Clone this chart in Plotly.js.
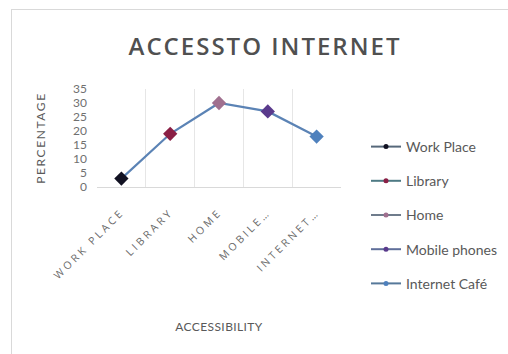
<!DOCTYPE html>
<html>
<head>
<meta charset="utf-8">
<script src="https://cdn.plot.ly/plotly-3.0.1.min.js"></script>
<style>
html,body{margin:0;padding:0;background:#fff;}
#chart{width:508px;height:354px;}
.xtick text{letter-spacing:3px;}
.gtitle{letter-spacing:2px;}
.g-ytitle text{letter-spacing:1.6px;}
.g-xtitle text{letter-spacing:0.4px;}
</style>
</head>
<body>
<div id="chart"></div>
<script>
const categories = ["WORK PLACE", "LIBRARY", "HOME", "MOBILE…", "INTERNET…"];
const seriesNames = ["Work Place", "Library", "Home", "Mobile phones", "Internet Café"];
const percentages = [3, 19, 30, 27, 18];
const yTicks = [0, 5, 10, 15, 20, 25, 30, 35];
const markerColors = ["#111122", "#8a1f45", "#a0708f", "#5a3a8c", "#4f81bd"];
const legendLineColors = ["#56687a", "#4e7a84", "#6f7c8c", "#5f6f9a", "#56789a"];

const L = 97, R = 341, T = 89, B = 187, W = 508, H = 354;
const px2x = p => (p - L) / (R - L);
const py2y = p => (B - p) / (B - T);

const traces = [];
categories.forEach((c, i) => {
  traces.push({
    x: [c], y: [percentages[i]], type: "scatter", mode: "lines+markers",
    name: seriesNames[i], legendgroup: "g" + i,
    line: {color: legendLineColors[i], width: 2},
    marker: {symbol: "circle", size: 5, color: markerColors[i]}
  });
});
traces.push({
  x: categories, y: percentages, type: "scatter", mode: "lines+markers",
  line: {color: "#5b83b5", width: 2.2},
  marker: {symbol: "diamond", size: 11, color: markerColors},
  showlegend: false, hoverinfo: "skip"
});

const layout = {
  width: W, height: H,
  margin: {l: L, r: W - R, t: T, b: H - B, autoexpand: false},
  paper_bgcolor: "#ffffff", plot_bgcolor: "#ffffff",
  font: {family: "Lato, 'Open Sans', sans-serif", color: "#595959"},
  title: {
    text: "ACCESSTO INTERNET", x: 265 / W, xanchor: "center", xref: "container",
    y: 1 - 47 / H, yanchor: "middle", yref: "container",
    font: {family: "'Open Sans', Lato, sans-serif", size: 24, color: "#505050", weight: 600}
  },
  xaxis: {
    type: "category", range: [-0.5, 4.5], fixedrange: true,
    tickangle: -45, ticklabelstandoff: 14,
    tickfont: {family: "'Open Sans', sans-serif", size: 10.5, color: "#6a6a6a"},
    tickson: "boundaries", ticks: "", showgrid: true, gridcolor: "#e6e6e6", gridwidth: 1,
    showline: true, linecolor: "#d9d9d9", linewidth: 1, zeroline: false,
    title: {text: "ACCESSIBILITY", standoff: 41, font: {family: "Lato, sans-serif", size: 12, color: "#595959"}}
  },
  yaxis: {
    range: [0, 35], tickvals: yTicks, ticktext: yTicks.map(String), fixedrange: true,
    tickfont: {family: "Lato, sans-serif", size: 12, color: "#707070"},
    showgrid: false, zeroline: false, showline: false, ticks: "", ticklabelstandoff: 9,
    title: {text: "PERCENTAGE", standoff: 24, font: {family: "Lato, sans-serif", size: 12, color: "#595959"}}
  },
  legend: {
    x: px2x(366), xanchor: "left", y: py2y(131), yanchor: "top",
    font: {family: "Lato, sans-serif", size: 14, color: "#595959"},
    tracegroupgap: 13, bgcolor: "rgba(0,0,0,0)", itemwidth: 30, maxheight: 320
  },
  shapes: [
    {type: "line", xref: "paper", yref: "paper", x0: px2x(11), x1: px2x(508), y0: py2y(9.5), y1: py2y(9.5), line: {color: "#d9d9d9", width: 1}},
    {type: "line", xref: "paper", yref: "paper", x0: px2x(11.5), x1: px2x(11.5), y0: py2y(9.5), y1: py2y(354), line: {color: "#d9d9d9", width: 1}}
  ],
  hovermode: false
};

Plotly.newPlot("chart", traces, layout, {displayModeBar: false, staticPlot: true});
</script>
</body>
</html>
